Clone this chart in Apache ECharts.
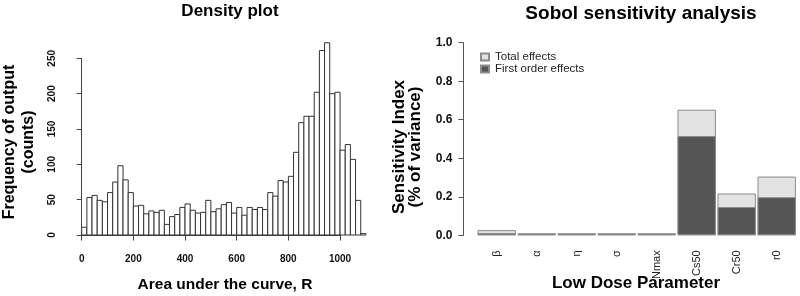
<!DOCTYPE html>
<html>
<head>
<meta charset="utf-8">
<script src="https://cdn.jsdelivr.net/npm/echarts@6/dist/echarts.min.js"></script>
<style>
  html, body { margin: 0; padding: 0; background: #fff; }
  #main { width: 800px; height: 296px; }
</style>
</head>
<body>
<div id="main"></div>
<script>
// histogram bins (left edge of each 20-wide bin) and counts
var binStart = [0, 20, 40, 60, 80, 100, 120, 140, 160, 180,
  200, 220, 240, 260, 280, 300, 320, 340, 360, 380,
  400, 420, 440, 460, 480, 500, 520, 540, 560, 580,
  600, 620, 640, 660, 680, 700, 720, 740, 760, 780,
  800, 820, 840, 860, 880, 900, 920, 940, 960, 980,
  1000, 1020, 1040, 1060, 1080]
var binWidth = 20
var counts = [11, 53, 56, 49, 47, 60, 75, 98, 78, 60,
  41, 42, 30, 34, 32, 35, 15, 26, 29, 39,
  44, 35, 31, 32, 49, 33, 37, 43, 46, 31,
  39, 28, 39, 36, 39, 36, 60, 55, 77, 75,
  83, 117, 159, 168, 168, 202, 261, 272, 200, 202,
  120, 128, 107, 49, 2]
var histTicks = [0, 200, 400, 600, 800, 1000]

// sobol
var params = ['β', 'α', 'η', 'σ', 'Nmax', 'Cs50', 'Cr50', 'r0']
var totalEffects = [0.027, 0.011, 0.011, 0.011, 0.011, 0.652, 0.217, 0.305]
var firstOrder = [0.012, 0.007, 0.007, 0.007, 0.007, 0.515, 0.147, 0.198]

var FONT = "'Liberation Sans', Arial, Helvetica, sans-serif"

var histData = binStart.map(function (s, i) { return [s, s + binWidth, counts[i]] })

var chart = echarts.init(document.getElementById('main'), null, { renderer: 'canvas' })

var option = {
  animation: false,
  backgroundColor: '#fff',
  textStyle: { fontFamily: FONT, color: '#000' },
  title: [
    {
      text: 'Density plot', left: 225, top: -2, textAlign: 'center',
      textStyle: { fontFamily: FONT, fontSize: 17, fontWeight: 'bold', color: '#000' }
    },
    {
      text: 'Sobol sensitivity analysis', left: 636, top: -1, textAlign: 'center',
      textStyle: { fontFamily: FONT, fontSize: 19, fontWeight: 'bold', color: '#000' }
    }
  ],
  legend: {
    orient: 'vertical',
    left: 475, top: 46,
    itemWidth: 8, itemHeight: 7, itemGap: 0,
    icon: 'rect',
    textStyle: { fontFamily: FONT, fontSize: 11.5, color: '#222', lineHeight: 11, padding: [0, 0, 0, 1] },
    data: ['Total effects', 'First order effects']
  },
  grid: [
    // axes only for the histogram
    { left: 81.7, width: 258.3, top: 58.3, height: 176.7 },
    // data area for the histogram
    { left: 81.7, width: 284.2, top: 23, height: 212 },
    // sobol barplot
    { left: 476.7, width: 320, top: 42.7, height: 192.6 }
  ],
  xAxis: [
    {
      gridIndex: 0, type: 'value', min: 0, max: 1000, interval: 200,
      offset: 7.7,
      axisLine: { show: true, lineStyle: { color: '#444', width: 1 } },
      axisTick: { show: true, length: 5.5, lineStyle: { color: '#444' } },
      axisLabel: {
        margin: 12, fontSize: 10, fontWeight: 'bold', color: '#111', fontFamily: FONT,
        customValues: histTicks,
        formatter: function (v) { return String(v) }
      },
      splitLine: { show: false }
    },
    {
      gridIndex: 1, type: 'value', min: 0, max: 1100, show: false
    },
    {
      gridIndex: 2, type: 'category', data: params,
      axisLine: { show: false }, axisTick: { show: false },
      axisLabel: { rotate: 90, margin: 15, fontSize: 11, color: '#222', fontFamily: FONT, interval: 0 }
    }
  ],
  yAxis: [
    {
      gridIndex: 0, type: 'value', min: 0, max: 250, interval: 50,
      offset: 11.7,
      axisLine: { show: true, lineStyle: { color: '#444', width: 1 } },
      axisTick: { show: true, length: 5, lineStyle: { color: '#444' } },
      axisLabel: { rotate: 90, margin: 13, fontSize: 10, fontWeight: 'bold', color: '#111', fontFamily: FONT },
      splitLine: { show: false }
    },
    {
      gridIndex: 1, type: 'value', min: 0, max: 300, show: false
    },
    {
      gridIndex: 2, type: 'value', min: 0, max: 1, interval: 0.2,
      offset: 13.3,
      axisLine: { show: true, lineStyle: { color: '#555', width: 1 } },
      axisTick: { show: true, length: 5, lineStyle: { color: '#555' } },
      axisLabel: {
        margin: 11, fontSize: 12, fontWeight: 'bold', color: '#111', fontFamily: FONT,
        formatter: function (v) { return v.toFixed(1) }
      },
      splitLine: { show: false }
    }
  ],
  series: [
    {
      type: 'custom',
      xAxisIndex: 1, yAxisIndex: 1,
      data: histData,
      renderItem: function (params, api) {
        var top = api.coord([api.value(0), api.value(2)])
        var bot = api.coord([api.value(1), 0])
        return {
          type: 'rect',
          shape: { x: top[0], y: top[1], width: bot[0] - top[0], height: bot[1] - top[1] },
          style: { fill: '#fff', stroke: '#333', lineWidth: 1 }
        }
      }
    },
    {
      name: 'Total effects', type: 'bar',
      xAxisIndex: 2, yAxisIndex: 2,
      data: totalEffects,
      barCategoryGap: '4%', barGap: '-100%',
      itemStyle: { color: '#e3e3e3', borderColor: '#8c8c8c', borderWidth: 1 }
    },
    {
      name: 'First order effects', type: 'bar',
      xAxisIndex: 2, yAxisIndex: 2,
      data: firstOrder,
      barCategoryGap: '4%', barGap: '-100%',
      itemStyle: { color: '#555', borderColor: '#8c8c8c', borderWidth: 1 }
    }
  ],
  graphic: [
    {
      type: 'text', x: 19.5, y: 142, rotation: Math.PI / 2,
      style: {
        text: 'Frequency of output\n(counts)', textAlign: 'center', textVerticalAlign: 'middle',
        font: 'bold 16px ' + FONT, lineHeight: 19, fill: '#000'
      }
    },
    {
      type: 'text', x: 225, y: 285,
      style: {
        text: 'Area under the curve, R', textAlign: 'center', textVerticalAlign: 'middle',
        font: 'bold 15.5px ' + FONT, fill: '#000'
      }
    },
    {
      type: 'text', x: 407.5, y: 147, rotation: Math.PI / 2,
      style: {
        text: 'Sensitivity Index\n(% of variance)', textAlign: 'center', textVerticalAlign: 'middle',
        font: 'bold 17px ' + FONT, lineHeight: 16, fill: '#000'
      }
    },
    {
      type: 'text', x: 636, y: 283,
      style: {
        text: 'Low Dose Parameter', textAlign: 'center', textVerticalAlign: 'middle',
        font: 'bold 17px ' + FONT, fill: '#000'
      }
    }
  ]
}

chart.setOption(option)
</script>
</body>
</html>
